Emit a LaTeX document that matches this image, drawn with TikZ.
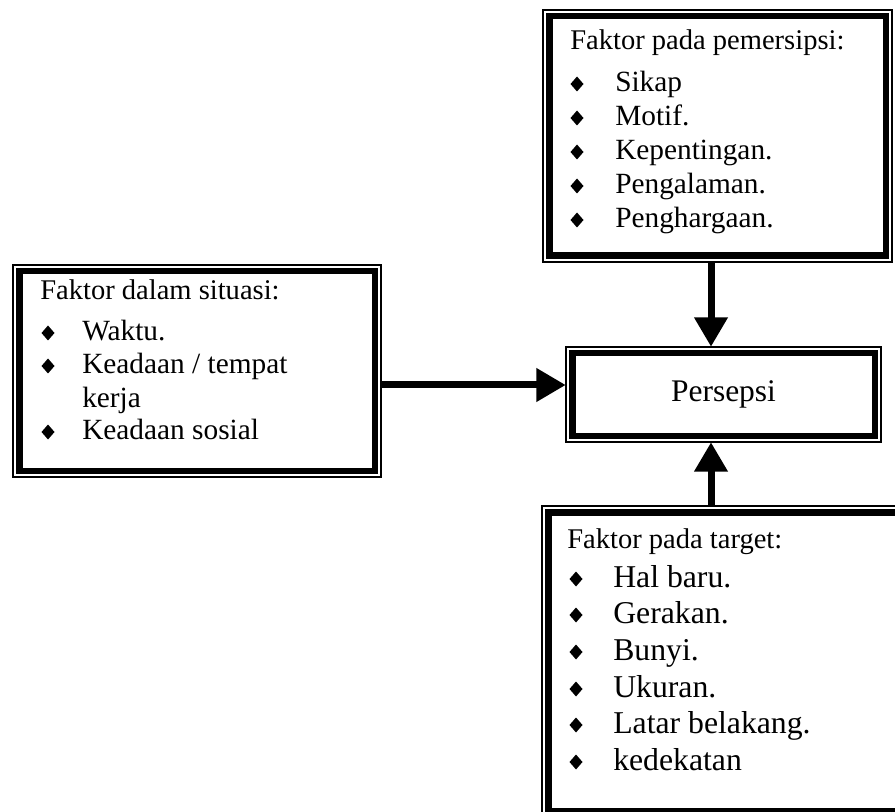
\documentclass[tikz,border=0pt]{standalone}
\usepackage{fontspec}
\setmainfont{Liberation Serif}
\usetikzlibrary{arrows.meta,calc}
\newcommand\mybul[2]{\fill (#1,#2-8) +(0,-7.5) -- +(6.5,0) -- +(0,7.5) -- +(-6.5,0) -- cycle;}
\begin{document}
\begin{tikzpicture}[x=0.75pt,y=-0.75pt,
  boxn/.style={rectangle, draw=none, inner sep=0pt},
  ttl/.style={anchor=base west, inner sep=0pt, font=\fontsize{21.4}{25}\selectfont},
  itm/.style={anchor=base west, inner sep=0pt, font=\fontsize{22}{26}\selectfont},
  itmb/.style={anchor=base west, inner sep=0pt, font=\fontsize{23.8}{28}\selectfont},
  conn/.style={line width=5.25pt, -{Triangle[length=22pt,width=24pt]}},
  thinb/.style={line width=1.5pt},
  thickb/.style={line width=4.9pt}]
\useasboundingbox (0,0) rectangle (895,812);
\clip (0,0) rectangle (895,812);
% boxes
\node[boxn, minimum width=261.75pt, minimum height=189pt] (top) at (717.5,136) {};
\node[boxn, minimum width=276pt, minimum height=159pt] (left) at (197,371) {};
\node[boxn, minimum width=236.25pt, minimum height=71.25pt, font=\fontsize{23.6}{28}\selectfont] (pers) at (723.5,394.5) {Persepsi};
\node[boxn, minimum width=272.25pt, minimum height=233.25pt] (bot) at (723.5,661.5) {};
\foreach \n in {top,left,pers,bot}{
  \draw[thinb] (\n.north west) rectangle (\n.south east);
  \draw[thickb] ($(\n.north west)+(6.5,6.5)$) rectangle ($(\n.south east)+(-6.5,-6.5)$);
}
% top box text
\node[ttl] (t0) at (570,50) {Faktor pada pemersipsi:};
\node[itm] (t1) at (615,92) {Sikap};
\node[itm] (t2) at (615,126) {Motif.};
\node[itm] (t3) at (615,160) {Kepentingan.};
\node[itm] (t4) at (615,194) {Pengalaman.};
\node[itm] (t5) at (615,228) {Penghargaan.};
\foreach \yy in {92,126,160,194,228} {\mybul{577}{\yy}}
% left box text
\node[ttl] (l0) at (40,300) {Faktor dalam situasi:};
\node[itm] (l1) at (82,341) {Waktu.};
\node[itm] (l2) at (82,374) {Keadaan / tempat};
\node[itm] (l3) at (82,407) {kerja};
\node[itm] (l4) at (82,440) {Keadaan sosial};
\foreach \yy in {341,374,440} {\mybul{48}{\yy}}
% bottom box text
\node[ttl] (b0) at (567,548) {Faktor pada target:};
\node[itmb] (b1) at (613,587) {Hal baru.};
\node[itmb] (b2) at (613,623) {Gerakan.};
\node[itmb] (b3) at (613,660) {Bunyi.};
\node[itmb] (b4) at (613,697) {Ukuran.};
\node[itmb] (b5) at (613,733) {Latar belakang.};
\node[itmb] (b6) at (613,770) {kedekatan};
\foreach \yy in {587,623,660,697,733,770} {\mybul{576}{\yy}}
% connectors
\coordinate (ax) at (711,0);
\coordinate (ay) at (0,385);
\draw[conn] (top.south -| ax) -- (pers.north -| ax);
\draw[conn] (left.east |- ay) -- (pers.west |- ay);
\draw[conn] (bot.north -| ax) -- (pers.south -| ax);
\end{tikzpicture}
\end{document}
